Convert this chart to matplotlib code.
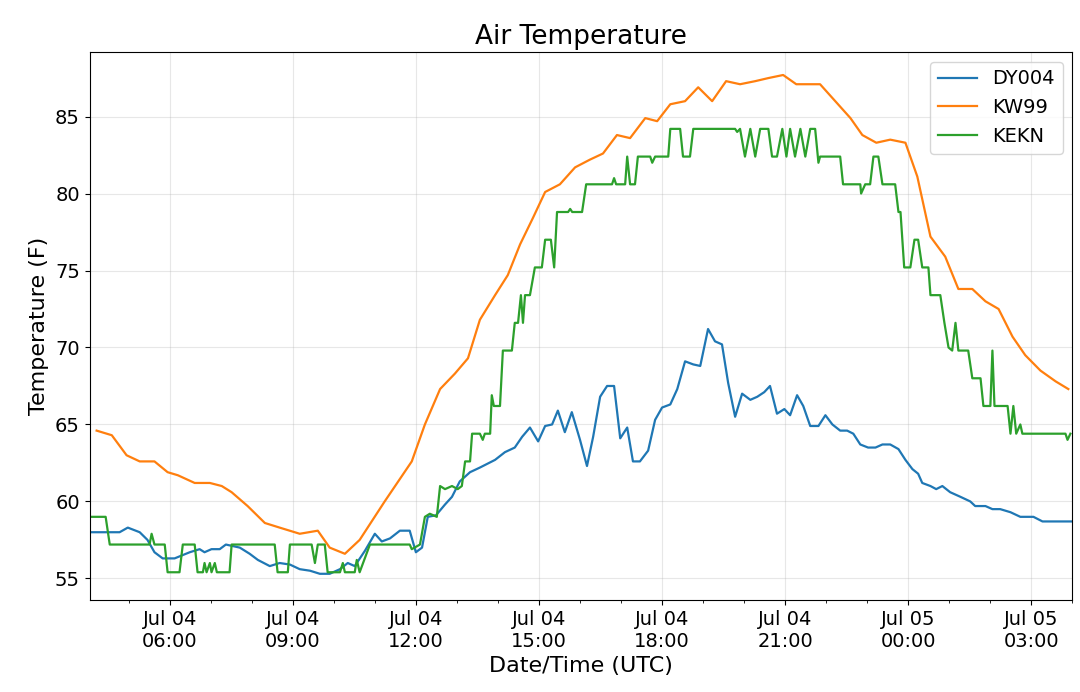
import matplotlib
matplotlib.use("Agg")
import matplotlib.pyplot as plt
import matplotlib.dates as mdates
import pandas as pd

BASE = pd.Timestamp("2019-07-04 00:00")

# hours since Jul 04 00:00 UTC, temperature (F)
dy004_h = [4.05, 4.78, 4.98, 5.27, 5.46, 5.63, 5.83, 6.12, 6.49, 6.73, 6.85, 7.02, 7.22, 7.37, 7.71, 7.95,
           8.15, 8.44, 8.68, 8.93, 9.17, 9.42, 9.66, 9.90, 10.15, 10.34, 10.51, 10.76, 11.00, 11.17, 11.37,
           11.61, 11.85, 12.00, 12.15, 12.29, 12.49, 12.71, 12.88, 13.07, 13.32, 13.56, 13.93, 14.17, 14.41,
           14.59, 14.78, 14.98, 15.15, 15.32, 15.46, 15.63, 15.80, 16.00, 16.17, 16.32, 16.49, 16.66, 16.83,
           16.98, 17.15, 17.29, 17.46, 17.66, 17.83, 18.00, 18.20, 18.37, 18.56, 18.76, 18.93, 19.12, 19.29,
           19.46, 19.61, 19.78, 19.95, 20.15, 20.32, 20.49, 20.63, 20.80, 20.98, 21.12, 21.29, 21.44, 21.61,
           21.81, 21.98, 22.15, 22.34, 22.51, 22.66, 22.83, 23.02, 23.20, 23.37, 23.56, 23.76, 23.93, 24.10,
           24.24, 24.34, 24.54, 24.68, 24.83, 25.02, 25.27, 25.51, 25.63, 25.88, 26.05, 26.24, 26.49, 26.73,
           27.05, 27.27, 28.00]
dy004_t = [58.0, 58.0, 58.3, 58.0, 57.5, 56.7, 56.3, 56.3, 56.7, 56.9, 56.7, 56.9, 56.9, 57.2, 57.0, 56.6,
           56.2, 55.8, 56.0, 55.9, 55.6, 55.5, 55.3, 55.3, 55.6, 56.0, 55.8, 56.8, 57.9, 57.4, 57.6,
           58.1, 58.1, 56.7, 57.0, 59.0, 59.1, 59.8, 60.3, 61.3, 61.9, 62.2, 62.7, 63.2, 63.5,
           64.2, 64.8, 63.9, 64.9, 65.0, 65.9, 64.5, 65.8, 64.0, 62.3, 64.2, 66.8, 67.5, 67.5,
           64.1, 64.8, 62.6, 62.6, 63.3, 65.3, 66.1, 66.3, 67.3, 69.1, 68.9, 68.8, 71.2, 70.4,
           70.2, 67.7, 65.5, 67.0, 66.6, 66.8, 67.1, 67.5, 65.7, 66.0, 65.6, 66.9, 66.2, 64.9,
           64.9, 65.6, 65.0, 64.6, 64.6, 64.4, 63.7, 63.5, 63.5, 63.7, 63.7, 63.4, 62.7, 62.1,
           61.8, 61.2, 61.0, 60.8, 61.0, 60.6, 60.3, 60.0, 59.7, 59.7, 59.5, 59.5, 59.3, 59.0,
           59.0, 58.7, 58.7]

kw99_h = [4.22, 4.59, 4.95, 5.27, 5.63, 5.95, 6.20, 6.61, 6.98, 7.27, 7.51, 7.90, 8.32, 8.68, 9.17, 9.61,
          9.90, 10.27, 10.63, 11.24, 11.90, 12.22, 12.59, 12.95, 13.27, 13.56, 13.93, 14.24, 14.54, 14.85,
          15.15, 15.51, 15.88, 16.24, 16.56, 16.90, 17.22, 17.59, 17.88, 18.20, 18.56, 18.88, 19.22, 19.56,
          19.90, 20.27, 20.59, 20.95, 21.27, 21.85, 22.22, 22.59, 22.88, 23.22, 23.56, 23.93, 24.22, 24.54,
          24.90, 25.22, 25.56, 25.88, 26.20, 26.54, 26.85, 27.22, 27.59, 27.90]
kw99_t = [64.6, 64.3, 63.0, 62.6, 62.6, 61.9, 61.7, 61.2, 61.2, 61.0, 60.6, 59.7, 58.6, 58.3, 57.9, 58.1,
          57.0, 56.6, 57.5, 60.0, 62.6, 65.0, 67.3, 68.3, 69.3, 71.8, 73.4, 74.7, 76.7, 78.4,
          80.1, 80.6, 81.7, 82.2, 82.6, 83.8, 83.6, 84.9, 84.7, 85.8, 86.0, 86.9, 86.0, 87.3,
          87.1, 87.3, 87.5, 87.7, 87.1, 87.1, 86.0, 84.9, 83.8, 83.3, 83.5, 83.3, 81.1, 77.2,
          75.9, 73.8, 73.8, 73.0, 72.5, 70.7, 69.5, 68.5, 67.8, 67.3]

kekn_h = [4.05, 4.44, 4.54, 4.83, 5.51, 5.56, 5.63, 5.88, 5.95, 6.24, 6.32, 6.61, 6.68, 6.81, 6.85, 6.90,
          6.98, 7.02, 7.10, 7.15, 7.46, 7.51, 8.56, 8.63, 8.88, 8.93, 9.46, 9.54, 9.61, 9.78, 9.85, 10.15,
          10.22, 10.27, 10.51, 10.56, 10.63, 10.88, 11.85, 11.90, 12.10, 12.22, 12.34, 12.51, 12.59, 12.71,
          12.88, 13.02, 13.12, 13.20, 13.32, 13.37, 13.56, 13.63, 13.68, 13.81, 13.85, 13.90, 14.05, 14.12,
          14.34, 14.41, 14.49, 14.56, 14.61, 14.66, 14.78, 14.90, 15.07, 15.15, 15.29, 15.37, 15.44, 15.71,
          15.76, 15.81, 16.05, 16.15, 16.78, 16.83, 16.88, 17.10, 17.15, 17.22, 17.34, 17.41, 17.71, 17.76,
          17.83, 18.15, 18.20, 18.44, 18.51, 18.68, 18.76, 19.78, 19.83, 19.90, 20.02, 20.15, 20.27, 20.39,
          20.59, 20.68, 20.80, 20.93, 21.03, 21.12, 21.24, 21.37, 21.49, 21.61, 21.73, 21.81, 21.85, 22.34,
          22.41, 22.71, 22.83, 22.85, 22.95, 23.07, 23.15, 23.27, 23.37, 23.68, 23.76, 23.81, 23.90, 24.05,
          24.15, 24.24, 24.34, 24.49, 24.54, 24.78, 24.88, 24.98, 25.07, 25.15, 25.22, 25.46, 25.56, 25.76,
          25.83, 26.00, 26.05, 26.10, 26.42, 26.49, 26.56, 26.63, 26.73, 26.78, 27.83, 27.88, 27.95]
kekn_t = [59.0, 59.0, 57.2, 57.2, 57.2, 57.9, 57.2, 57.2, 55.4, 55.4, 57.2, 57.2, 55.4, 55.4, 56.0, 55.4,
          56.0, 55.4, 56.0, 55.4, 55.4, 57.2, 57.2, 55.4, 55.4, 57.2, 57.2, 56.0, 57.2, 57.2, 55.4, 55.4,
          56.0, 55.4, 55.4, 56.2, 55.4, 57.2, 57.2, 56.9, 57.2, 59.0, 59.2, 59.0, 61.0, 60.8,
          61.0, 60.8, 61.0, 62.6, 62.6, 64.4, 64.4, 64.0, 64.4, 64.4, 66.9, 66.2, 66.2, 69.8,
          69.8, 71.6, 71.6, 73.4, 71.6, 73.4, 73.4, 75.2, 75.2, 77.0, 77.0, 75.2, 78.8, 78.8,
          79.0, 78.8, 78.8, 80.6, 80.6, 81.0, 80.6, 80.6, 82.4, 80.6, 80.6, 82.4, 82.4, 82.0,
          82.4, 82.4, 84.2, 84.2, 82.4, 82.4, 84.2, 84.2, 84.0, 84.2, 82.4, 84.2, 82.4, 84.2,
          84.2, 82.4, 82.4, 84.2, 82.4, 84.2, 82.4, 84.2, 82.4, 84.2, 84.2, 82.0, 82.4, 82.4,
          80.6, 80.6, 80.6, 80.0, 80.6, 80.6, 82.4, 82.4, 80.6, 80.6, 78.8, 78.8, 75.2, 75.2,
          77.0, 77.0, 75.2, 75.2, 73.4, 73.4, 71.6, 70.0, 69.8, 71.6, 69.8, 69.8, 68.0, 68.0,
          66.2, 66.2, 69.8, 66.2, 66.2, 64.4, 66.2, 64.4, 65.0, 64.4, 64.4, 64.0, 64.4]


def to_time(hours):
    return BASE + pd.to_timedelta(hours, unit="h")


fig = plt.figure(figsize=(10.8, 6.92), dpi=100)
ax = fig.add_axes([0.083, 0.133, 0.91, 0.792])
ax.plot(to_time(dy004_h), dy004_t, color="#1f77b4", lw=1.6, label="DY004")
ax.plot(to_time(kw99_h), kw99_t, color="#ff7f0e", lw=1.6, label="KW99")
ax.plot(to_time(kekn_h), kekn_t, color="#2ca02c", lw=1.6, label="KEKN")

ax.set_xlim(to_time(4.05), to_time(28.0))
ax.set_ylim(53.6, 89.2)
ax.xaxis.set_major_locator(mdates.HourLocator(byhour=[0, 3, 6, 9, 12, 15, 18, 21]))
ax.xaxis.set_minor_locator(mdates.HourLocator())
ax.xaxis.set_major_formatter(mdates.DateFormatter("%b %d\n%H:%M"))
ax.tick_params(labelsize=14)
ax.grid(alpha=0.3)
ax.set_title("Air Temperature", fontsize=19)
ax.set_xlabel("Date/Time (UTC)", fontsize=16)
ax.set_ylabel("Temperature (F)", fontsize=16)
ax.legend(fontsize=14, loc="upper right")
fig.savefig("out.png")
